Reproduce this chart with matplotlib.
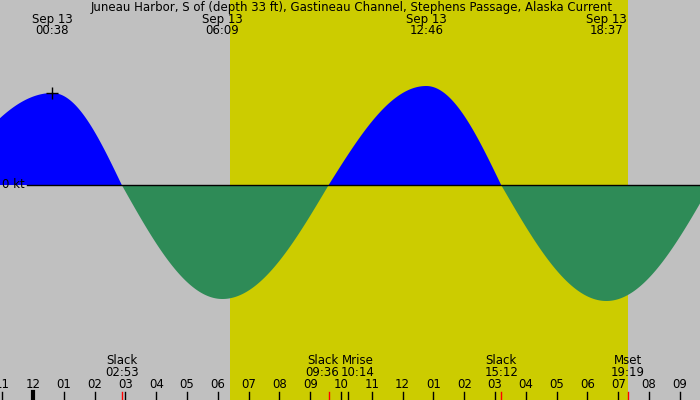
import numpy as np
import matplotlib
matplotlib.use("Agg")
import matplotlib.pyplot as plt

# heures depuis minuit du 13 sept, valeurs en unites relatives (0 = etale)
evt_t = [-2.9, 0.633, 2.883, 6.15, 9.6, 12.767, 15.2, 18.617, 22.0]
evt_v = [0.0, 0.92, 0.0, -1.14, 0.0, 0.99, 0.0, -1.16, 0.0]

top_dates = ["Sep 13", "Sep 13", "Sep 13", "Sep 13"]
top_times = ["00:38", "06:09", "12:46", "18:37"]
top_t = [0.633, 6.15, 12.767, 18.617]

bot_names = ["Slack", "Slack", "Mrise", "Slack", "Mset"]
bot_times = ["02:53", "09:36", "10:14", "15:12", "19:19"]
bot_t = [2.883, 9.6, 10.233, 15.2, 19.317]
bot_red = [True, True, False, True, True]
bot_shift = [0, -0.2, 0.3, 0, 0]  # decalage des libelles pour eviter le chevauchement

jour = (6.4, 19.32)
hours = list(range(-1, 22))
hour_lbl = ["11", "12", "01", "02", "03", "04", "05", "06", "07", "08", "09", "10",
            "11", "12", "01", "02", "03", "04", "05", "06", "07", "08", "09"]

# courbe : quart de sinus entre etale et extremum
ts, vs = [], []
for i in range(len(evt_t) - 1):
    s = np.linspace(0, 1, 80)
    ts.append(evt_t[i] + s * (evt_t[i+1] - evt_t[i]))
    if evt_v[i] == 0:
        vs.append(evt_v[i+1] * np.sin(np.pi / 2 * s))
    else:
        vs.append(evt_v[i] * np.cos(np.pi / 2 * s))
t = np.concatenate(ts)
v = np.concatenate(vs)

fig = plt.figure(figsize=(7, 4), dpi=100)
ax = fig.add_axes([0, 0, 1, 1])
x0, x1 = -33 / 30.8, 667 / 30.8
ax.set_xlim(x0, x1)
ax.set_ylim(-2.15, 1.85)
ax.axis("off")
ax.add_patch(plt.Rectangle((x0, -3), x1 - x0, 6, color="#c0c0c0", zorder=0))
ax.axvspan(jour[0], jour[1], color="#cccc00", zorder=1, lw=0)

ax.fill_between(t, 0, v, where=v >= 0, color="#0000ff", lw=0, zorder=2, interpolate=True)
ax.fill_between(t, 0, v, where=v <= 0, color="#2e8b57", lw=0, zorder=2, interpolate=True)
ax.plot([-0.2, x1], [0, 0], color="black", lw=1, zorder=3)
ax.plot(top_t[0], evt_v[1], marker="+", color="black", ms=8, mew=1, zorder=4)

fs = 8.5
ax.text(x0 + 0.05, 0, "0 kt", fontsize=fs, va="center", ha="left", zorder=4)
ax.text((x0 + x1) / 2 + 0.05, 1.77,
        "Juneau Harbor, S of (depth 33 ft), Gastineau Channel, Stephens Passage, Alaska Current",
        ha="center", va="center", fontsize=fs)
for tt, d, h in zip(top_t, top_dates, top_times):
    ax.text(tt, 1.66, d, ha="center", va="center", fontsize=fs)
    ax.text(tt, 1.54, h, ha="center", va="center", fontsize=fs)

for tt, n, h, r, dx in zip(bot_t, bot_names, bot_times, bot_red, bot_shift):
    ax.text(tt + dx, (185 - 361) / 100, n, ha="center", va="center", fontsize=fs)
    ax.text(tt + dx, (185 - 373) / 100, h, ha="center", va="center", fontsize=fs)
    ax.plot([tt, tt], [(185 - 392) / 100, -2.15], color="red" if r else "black", lw=1, zorder=4)

for hh, lb in zip(hours, hour_lbl):
    ax.text(hh, (185 - 385) / 100, lb, ha="center", va="center", fontsize=fs)
    ax.plot([hh, hh], [(185 - 392) / 100, -2.15], color="black",
            lw=3 if hh == 0 else 1, zorder=4)

fig.savefig("out.png", dpi=100)
